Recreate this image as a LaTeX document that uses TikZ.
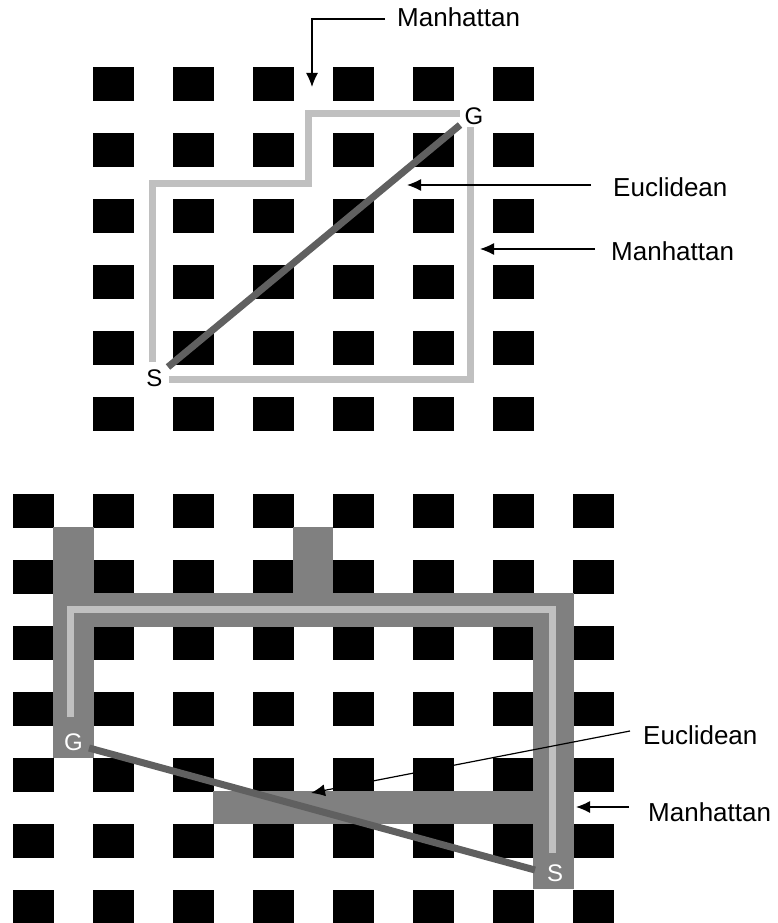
\documentclass[tikz,border=0pt]{standalone}
\usepackage{fontspec}
\setmainfont{Liberation Sans}
\usetikzlibrary{arrows.meta}
\definecolor{lightgr}{HTML}{C0C0C0}
\definecolor{midgr}{HTML}{808080}
\definecolor{darkgr}{HTML}{606060}
\begin{document}
\begin{tikzpicture}[x=1pt,y=-1pt,
  lbl/.style={anchor=base west, inner sep=0pt, font=\fontsize{26}{30}\selectfont},
  endlbl/.style={anchor=center, inner sep=0pt, font=\fontsize{24}{28}\selectfont},
  arr/.style={line width=1.2pt, -{Latex[length=14pt,width=12pt]}},
  manh/.style={draw=lightgr, line width=7pt, line join=miter},
  eucl/.style={draw=darkgr, line width=7pt},
  block/.style={fill=black},
  band/.style={fill=midgr}]
\useasboundingbox (0,0) rectangle (778,923);
% ---------- top grid ----------
\foreach \i in {0,...,5}{
  \foreach \j in {0,...,5}{
    \fill[block] (93+80*\i,67+66*\j) rectangle ++(41,34);
  }
}
\coordinate (a1) at (152.5,362);
\coordinate (a2) at (152.5,183.5);
\coordinate (a3) at (308,183.5);
\coordinate (a4) at (308,113.5);
\coordinate (a5) at (460,113.5);
\coordinate (b1) at (470.5,127);
\coordinate (b2) at (470.5,379);
\coordinate (b3) at (169,379);
\draw[manh] (a1) -- (a2) -- (a3) -- (a4) -- (a5);
\draw[manh] (b1) -- (b2) -- (b3);
\coordinate (e1) at (460,125);
\coordinate (e2) at (168,367);
\draw[eucl] (e1) -- (e2);
\node[endlbl] (S1) at (154.5,378.5) {S};
\node[endlbl] (G1) at (474,116.5) {G};
% top labels
\node[lbl] (tm) at (397,27) {Manhattan};
\coordinate (tm1) at (385,19);
\coordinate (tm2) at (312,19);
\coordinate (tm3) at (312,87);
\draw[arr] (tm1) -- (tm2) -- (tm3);
\node[lbl] (te) at (613,196) {Euclidean};
\coordinate (te1) at (591,185);
\coordinate (te2) at (407,185);
\draw[arr] (te1) -- (te2);
\node[lbl] (tm4) at (611,260) {Manhattan};
\coordinate (tm5) at (595,249);
\coordinate (tm6) at (480,249);
\draw[arr] (tm5) -- (tm6);
% ---------- bottom grid ----------
\foreach \i in {0,...,7}{
  \foreach \j in {0,...,6}{
    \fill[block] (13+80*\i,494+66*\j) rectangle ++(41,34);
  }
}
\fill[band] (53,527) rectangle (94,758);
\fill[band] (53,593) rectangle (574,627);
\fill[band] (293,527) rectangle (333,594);
\fill[band] (533,593) rectangle (574,889);
\fill[band] (213,791) rectangle (534,824);
\coordinate (c1) at (70.5,717);
\coordinate (c2) at (70.5,609.5);
\coordinate (c3) at (552.5,609.5);
\coordinate (c4) at (552.5,853);
\draw[manh] (c1) -- (c2) -- (c3) -- (c4);
\coordinate (f1) at (89,748);
\coordinate (f2) at (535,870);
\draw[eucl] (f1) -- (f2);
\node[endlbl, text=white] (G2) at (73.5,742) {G};
\node[endlbl, text=white] (S2) at (555,873.5) {S};
% bottom labels
\node[lbl] (be) at (643,744) {Euclidean};
\coordinate (be1) at (630,731);
\coordinate (be2) at (311,793);
\draw[arr] (be1) -- (be2);
\node[lbl] (bm) at (648,821) {Manhattan};
\coordinate (bm1) at (629,807);
\coordinate (bm2) at (576,807);
\draw[arr] (bm1) -- (bm2);
\end{tikzpicture}
\end{document}
